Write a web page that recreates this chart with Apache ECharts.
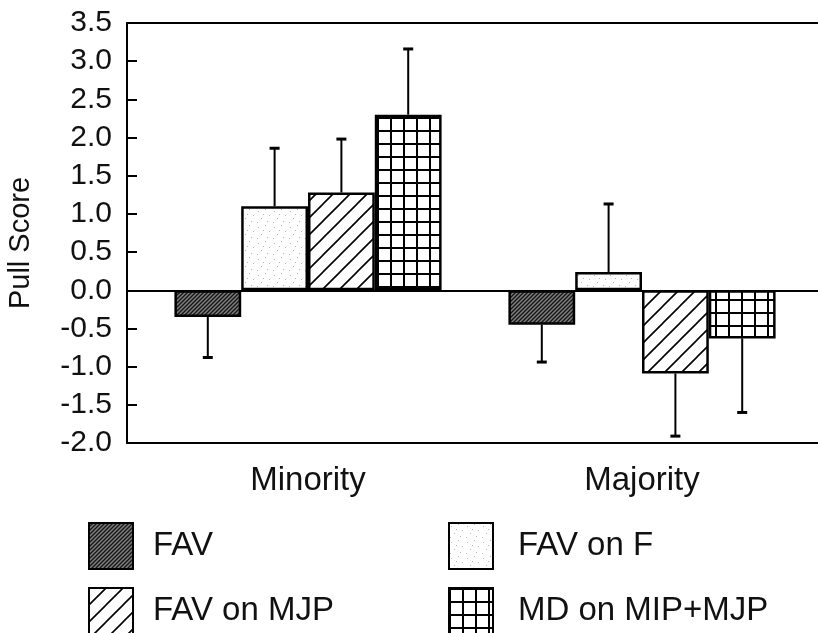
<!DOCTYPE html>
<html>
<head>
<meta charset="utf-8">
<script src="https://cdn.jsdelivr.net/npm/echarts@6/dist/echarts.min.js"></script>
<style>
  html, body { margin: 0; padding: 0; background: #fff; }
  #chart { width: 818px; height: 633px; }
</style>
</head>
<body>
<div id="chart"></div>
<script>
// values
var categories = ['Minority', 'Majority'];
var seriesNames = ['FAV', 'FAV on F', 'FAV on MJP', 'MD on MIP+MJP'];
var fav = [-0.35, -0.45];
var favOnF = [1.10, 0.24];
var favOnMJP = [1.28, -1.09];
var mdOnMipMjp = [2.30, -0.63];
// end of each error bar (one-sided)
var favErr = [-0.88, -0.94];
var favOnFErr = [1.86, 1.13];
var favOnMJPErr = [1.98, -1.91];
var mdErr = [3.16, -1.60];
var yTicks = ['-2.0', '-1.5', '-1.0', '-0.5', '0.0', '0.5', '1.0', '1.5', '2.0', '2.5', '3.0', '3.5'];

var FONT = '"Liberation Sans", Arial, Helvetica, sans-serif';
var GAP = 0.2;

// fill patterns
function tile(size, draw) {
    var c = document.createElement('canvas');
    c.width = size; c.height = size;
    draw(c.getContext('2d'), size);
    return { image: c, repeat: 'repeat' };
}
function diag(bg, fg, lw) {
    return function (g, s) {
        g.fillStyle = bg; g.fillRect(0, 0, s, s);
        g.strokeStyle = fg; g.lineWidth = lw;
        g.beginPath();
        g.moveTo(0, s); g.lineTo(s, 0);
        g.moveTo(-1, 1); g.lineTo(1, -1);
        g.moveTo(s - 1, s + 1); g.lineTo(s + 1, s - 1);
        g.stroke();
    };
}
var patDense = tile(4, diag('#7e7e7e', '#141414', 1.3));
var patDots = tile(16, function (g, s) {
    g.fillStyle = '#fff'; g.fillRect(0, 0, s, s);
    g.fillStyle = '#b5b5b5';
    [[2, 3], [9, 1], [13, 7], [5, 10], [11, 13], [1, 14], [7, 6]].forEach(function (p) {
        g.fillRect(p[0], p[1], 1, 1);
    });
});
var patDiag = tile(17, diag('#fff', '#000', 1.6));
var patGrid = tile(13, function (g, s) {
    g.fillStyle = '#fff'; g.fillRect(0, 0, s, s);
    g.fillStyle = '#000';
    g.fillRect(0, 0, s, 2);
    g.fillRect(0, 0, 2, s);
});

var values = [fav, favOnF, favOnMJP, mdOnMipMjp];
var errs = [favErr, favOnFErr, favOnMJPErr, mdErr];
var fills = [patDense, patDots, patDiag, patGrid];

var errData = [];
for (var k = 0; k < 4; k++) {
    for (var i = 0; i < categories.length; i++) {
        errData.push([i, values[k][i], errs[k][i], k]);
    }
}

function renderErr(params, api) {
    var ci = api.value(0), k = api.value(3);
    var band = api.size([1, 0])[0];
    var bw = band * (1 - GAP) / 4;
    var base = api.coord([ci, api.value(1)]);
    var x = base[0] + (k - 1.5) * bw;
    var yEnd = api.coord([ci, api.value(2)])[1];
    return {
        type: 'group',
        children: [
            { type: 'line', shape: { x1: x, y1: base[1], x2: x, y2: yEnd }, style: { stroke: '#000', lineWidth: 2 } },
            { type: 'line', shape: { x1: x - 5, y1: yEnd, x2: x + 5, y2: yEnd }, style: { stroke: '#000', lineWidth: 3 } }
        ]
    };
}

var lineAxis = function (pos, onZero) {
    return {
        type: 'category', gridIndex: 0, position: pos, data: ['x'],
        axisLine: { show: true, onZero: onZero, lineStyle: { color: '#000', width: 2 } },
        axisTick: { show: false }, axisLabel: { show: false }, splitLine: { show: false }
    };
};

var series = seriesNames.map(function (name, k) {
    return {
        name: name, type: 'bar', xAxisIndex: 3, yAxisIndex: 1,
        data: values[k],
        barGap: '0%', barCategoryGap: (GAP * 100) + '%',
        itemStyle: { color: fills[k], borderColor: '#000', borderWidth: 2.5 },
        silent: true
    };
});
series.push({
    type: 'custom', xAxisIndex: 3, yAxisIndex: 1, z: 5,
    renderItem: renderErr, data: errData, silent: true
});

var legendPos = [[88, 522, 15], [448, 522, 20], [88, 587, 15], [448, 587, 20]];
var legends = seriesNames.map(function (name, k) {
    return {
        data: [name], left: legendPos[k][0], top: legendPos[k][1], padding: 0,
        itemWidth: 44, itemHeight: 46, icon: 'rect', selectedMode: false,
        itemStyle: { borderColor: '#000', borderWidth: 2 },
        textStyle: { fontFamily: FONT, fontSize: 33, color: '#111', padding: [0, 0, 0, legendPos[k][2]] }
    };
});

var chart = echarts.init(document.getElementById('chart'));
chart.setOption({
    animation: false,
    backgroundColor: '#fff',
    grid: [
        { left: 127, right: 0, top: 23, bottom: 190, outerBoundsMode: 'none', containLabel: false },
        { left: 141, right: 9, top: 23, bottom: 190, outerBoundsMode: 'none', containLabel: false }
    ],
    legend: legends,
    xAxis: [
        lineAxis('bottom', false),
        lineAxis('top', false),
        lineAxis('bottom', true),
        {
            type: 'category', gridIndex: 1, position: 'bottom', data: categories,
            axisLine: { show: false, onZero: false }, axisTick: { show: false },
            axisLabel: { fontFamily: FONT, fontSize: 33, color: '#111', margin: 21 }
        }
    ],
    yAxis: [
        {
            type: 'value', gridIndex: 0, min: -2, max: 3.5, interval: 0.5,
            name: 'Pull Score', nameLocation: 'middle', nameRotate: 90, nameGap: 92,
            nameTextStyle: { fontFamily: FONT, fontSize: 29, color: '#111', padding: [0, 20, 0, 0] },
            axisLine: { show: true, lineStyle: { color: '#000', width: 2 } },
            axisTick: { show: true, inside: true, length: 10, lineStyle: { color: '#000', width: 2 } },
            axisLabel: {
                fontFamily: FONT, fontSize: 30, color: '#111', margin: 15,
                formatter: function (v) { return yTicks[Math.round((v + 2) * 2)]; }
            },
            splitLine: { show: false }
        },
        {
            type: 'value', gridIndex: 1, min: -2, max: 3.5, interval: 0.5, show: false,
            splitLine: { show: false }
        }
    ],
    series: series
});
</script>
</body>
</html>
